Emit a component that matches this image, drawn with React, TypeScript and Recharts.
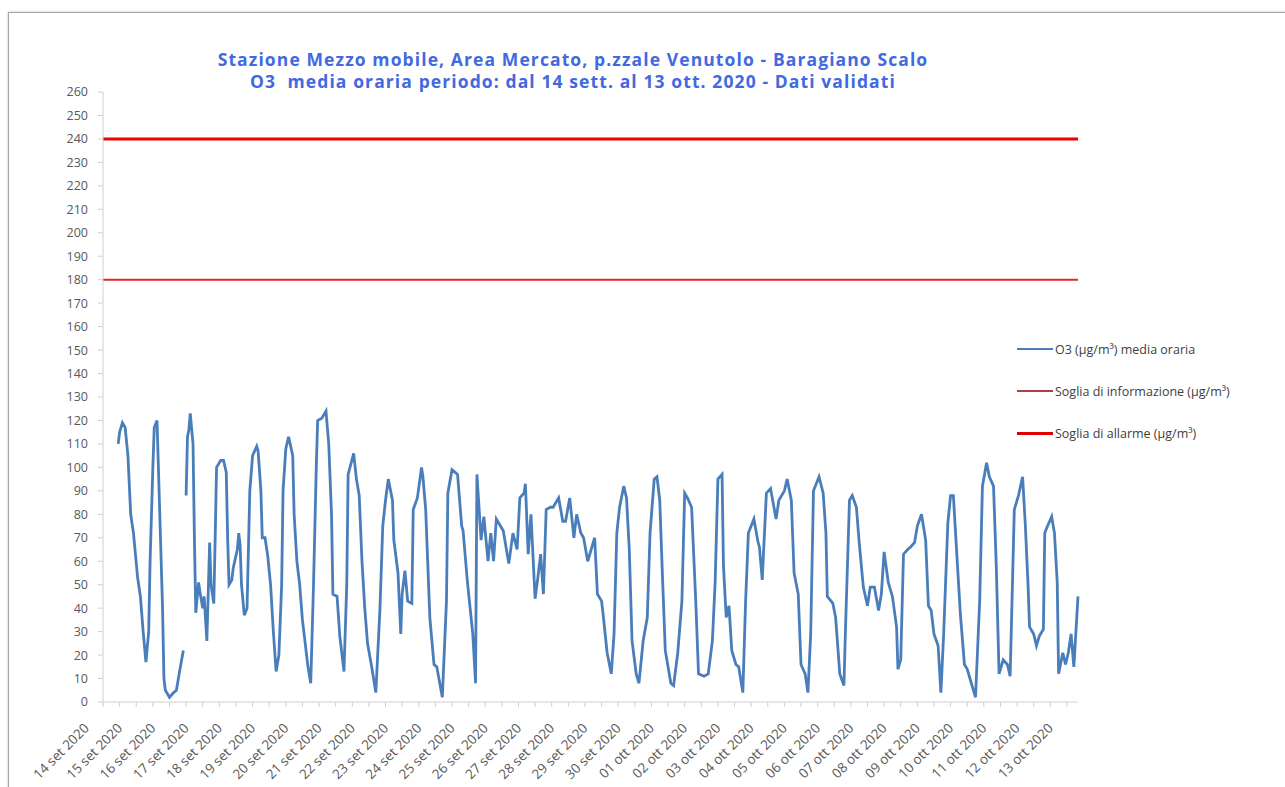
import { LineChart, Line, XAxis, YAxis, ReferenceLine, Legend } from "recharts";

// hour offset from 14 set 2020 00:00, and the hourly O3 value read at that hour
const hours = [
  11, 12, 14, 16, 18, 20, 22, 25, 27, 29, 31, 33, 34, 36, 37, 39, 41, 43, 44, 45, 48, 51, 53, 55, 58,
  59,
  60, 61, 62, 63, 65, 66, 67, 69, 70, 72, 73, 75, 77, 78, 80, 81, 82, 85, 87, 89, 90, 91, 93, 94,
  97, 98, 99, 100, 102, 104, 106, 108, 111, 112, 114, 115, 117, 119, 121, 123, 125, 127, 129, 130,
  132, 134, 137, 138, 140, 142, 144, 147, 148, 150, 152, 154, 155, 158, 161, 163, 165, 166, 169, 171,
  174, 176, 177, 181, 183, 185, 187, 189, 191, 194, 197, 200, 202, 204, 206, 209, 210, 213, 215, 216,
  218, 220, 223, 224, 227, 230, 231, 233, 236, 239, 241, 245, 248, 249, 252, 256, 259, 260, 263, 267,
  269, 270, 273, 275, 278, 280, 282, 284, 287, 289, 293, 296, 299, 301, 304, 305, 307, 309, 312, 314,
  316, 318, 320, 323, 325, 327, 329, 332, 334, 337, 340, 342, 345, 347, 350, 353, 355, 357, 360, 361,
  364, 367, 369, 371, 373, 376, 378, 380, 382, 385, 387, 390, 393, 395, 398, 400, 402, 404, 406, 410,
  412, 415, 418, 420, 422, 425, 428, 430, 434, 437, 440, 442, 444, 447, 448, 450, 452, 454, 457, 459,
  462, 464, 466, 470, 473, 474, 476, 479, 482, 486, 488, 492, 494, 497, 499, 502, 504, 507, 509, 511,
  513, 517, 520, 522, 523, 527, 529, 532, 535, 536, 539, 541, 544, 546, 549, 552, 554, 557, 560, 562,
  564, 567, 570, 573, 574, 576, 578, 581, 583, 586, 588, 591, 594, 596, 598, 600, 603, 605, 607, 610,
  612, 614, 617, 619, 622, 624, 627, 630, 633, 635, 638, 640, 643, 645, 647, 650, 653, 655, 658, 661,
  664, 666, 668, 669, 672, 674, 676, 679, 680, 682, 685, 687, 689, 690, 693, 695, 697, 699, 701, 704,
];

const o3 = [
  110, 115, 119, 117, 105, 80, 72, 53, 45, 30, 17, 30, 60, 100, 117, 120, 80, 40, 10, 5, 2, 4, 5, 12, 22,
  null,
  88, 113, 116, 123, 110, 70, 38, 51, 47, 40, 45, 26, 68, 50, 42, 70, 100, 103, 103, 98, 70, 50, 52, 57,
  65, 72, 67, 50, 37, 40, 90, 105, 109, 107, 90, 70, 70, 62, 50, 30, 13, 20, 50, 90,
  108, 113, 105, 80, 60, 50, 35, 20, 15, 8, 50, 100, 120, 121, 124, 110, 80, 46, 45, 28,
  13, 50, 97, 106, 95, 88, 60, 40, 25, 15, 4, 40, 75, 86, 95, 86, 69, 55, 29, 46,
  56, 43, 42, 82, 87, 100, 96, 82, 36, 16, 15, 2, 43, 89, 99, 97, 75, 73, 52, 29,
  8, 97, 69, 79, 60, 72, 60, 78, 75, 73, 59, 72, 65, 87, 89, 93, 63, 80, 44, 53,
  63, 46, 82, 83, 83, 85, 87, 77, 77, 87, 70, 80, 72, 70, 60, 66, 70, 46, 43, 38,
  21, 12, 29, 72, 83, 92, 87, 65, 26, 12, 8, 26, 36, 72, 95, 96, 86, 53, 22, 8,
  7, 21, 43, 89, 87, 83, 43, 12, 11, 12, 26, 51, 95, 97, 58, 36, 41, 22, 16, 15,
  4, 43, 72, 78, 68, 66, 52, 89, 91, 78, 86, 90, 95, 86, 55, 46, 16, 12, 4, 29,
  90, 96, 89, 72, 45, 42, 36, 12, 7, 29, 86, 88, 83, 68, 49, 41, 49, 49, 39, 46,
  64, 51, 45, 32, 14, 18, 63, 65, 66, 68, 75, 80, 69, 41, 39, 29, 24, 4, 29, 76,
  88, 88, 58, 38, 16, 14, 8, 2, 43, 92, 102, 96, 92, 58, 12, 18, 16, 11, 82, 88,
  96, 75, 49, 32, 29, 24, 28, 31, 72, 75, 79, 72, 51, 12, 21, 16, 21, 29, 15, 45,
];

const dayLabels = [
  "14 set 2020", "15 set 2020", "16 set 2020", "17 set 2020", "18 set 2020", "19 set 2020",
  "20 set 2020", "21 set 2020", "22 set 2020", "23 set 2020", "24 set 2020", "25 set 2020",
  "26 set 2020", "27 set 2020", "28 set 2020", "29 set 2020", "30 set 2020", "01 ott 2020",
  "02 ott 2020", "03 ott 2020", "04 ott 2020", "05 ott 2020", "06 ott 2020", "07 ott 2020",
  "08 ott 2020", "09 ott 2020", "10 ott 2020", "11 ott 2020", "12 ott 2020", "13 ott 2020",
];

const yTicks = [
  0, 10, 20, 30, 40, 50, 60, 70, 80, 90, 100, 110, 120, 130, 140, 150, 160, 170, 180, 190, 200,
  210, 220, 230, 240, 250, 260,
];

const SOGLIA_INFO = 180;
const SOGLIA_ALLARME = 240;

const legendItems = [
  { name: "O3 (µg/m³) media oraria", color: "#4a7ebb", width: 2 },
  { name: "Soglia di informazione (µg/m³)", color: "#b04040", width: 2 },
  { name: "Soglia di allarme (µg/m³)", color: "#e00000", width: 3 },
];

const data = hours.map((h, i) => ({ h, o3: o3[i] }));

// one tick every 12 hours, label only on day boundaries
const xTicks = dayLabels.flatMap((_, d) => (d < dayLabels.length - 1 ? [d * 24, d * 24 + 12] : [d * 24]));

const FONT = "'Open Sans', 'Noto Sans', sans-serif";

function DayTick(props: any) {
  const { x, y, payload } = props;
  const h = payload.value as number;
  if (h % 24 !== 0) return null;
  const label = dayLabels[h / 24];
  const px = x - 13;
  const py = y + 20;
  return (
    <text
      x={px}
      y={py}
      textAnchor="end"
      transform={`rotate(-45, ${px}, ${py})`}
      fontSize={13.5}
      fill="#595959"
      fontFamily={FONT}
    >
      {label}
    </text>
  );
}

function LegendBox() {
  return (
    <div style={{ fontFamily: FONT, fontSize: 12.5, color: "#404040" }}>
      {legendItems.map((it) => (
        <div key={it.name} style={{ display: "flex", alignItems: "center", height: 42 }}>
          <div style={{ width: 36, height: it.width, background: it.color, marginRight: 2 }} />
          <span>{it.name}</span>
        </div>
      ))}
    </div>
  );
}

export default function App() {
  return (
    <div style={{ position: "absolute", left: 0, top: 0, width: 1285, height: 787, background: "#fff", overflow: "hidden" }}>
      <div
        style={{
          position: "absolute",
          left: 8,
          top: 12,
          width: 1300,
          height: 800,
          border: "1px solid #a6a6a6",
          boxShadow: "0 0 2px #bbb",
        }}
      />
      <div
        style={{
          position: "absolute",
          left: 0,
          top: 48,
          width: 1146,
          textAlign: "center",
          fontFamily: FONT,
          fontWeight: 700,
          fontSize: 17.5,
          letterSpacing: 1.1,
          lineHeight: "22px",
          color: "#4169e1",
        }}
      >
        <div>Stazione Mezzo mobile, Area Mercato, p.zzale Venutolo - Baragiano Scalo</div>
        <div>O3&nbsp; media oraria periodo: dal 14 sett. al 13 ott. 2020 - Dati validati</div>
      </div>
      <div style={{ position: "absolute", left: 0, top: 0 }}>
        <LineChart width={1285} height={787} data={data} margin={{ top: 92, right: 207, bottom: 0, left: 0 }}>
          <XAxis
            dataKey="h"
            type="number"
            domain={[0, 704]}
            ticks={xTicks}
            interval={0}
            tick={<DayTick />}
            tickSize={5}
            height={85}
            axisLine={{ stroke: "#d0d0d0" }}
            tickLine={{ stroke: "#d0d0d0" }}
          />
          <YAxis
            type="number"
            domain={[0, 260]}
            ticks={yTicks}
            interval={0}
            width={103}
            tickSize={5}
            tickMargin={10}
            axisLine={{ stroke: "#d0d0d0" }}
            tickLine={{ stroke: "#d0d0d0" }}
            tick={{ fontSize: 12.5, fill: "#595959", fontFamily: FONT }}
          />
          <ReferenceLine y={SOGLIA_ALLARME} stroke="#f00000" strokeWidth={3} />
          <ReferenceLine y={SOGLIA_INFO} stroke="#e02828" strokeWidth={2} />
          <Line
            dataKey="o3"
            type="linear"
            stroke="#4a7ebb"
            strokeWidth={2.8}
            dot={false}
            connectNulls={false}
            isAnimationActive={false}
          />
          <Legend
            content={<LegendBox />}
            layout="vertical"
            verticalAlign="middle"
            align="center"
            wrapperStyle={{ left: 1017, top: 328, width: 260 }}
          />
        </LineChart>
      </div>
    </div>
  );
}
